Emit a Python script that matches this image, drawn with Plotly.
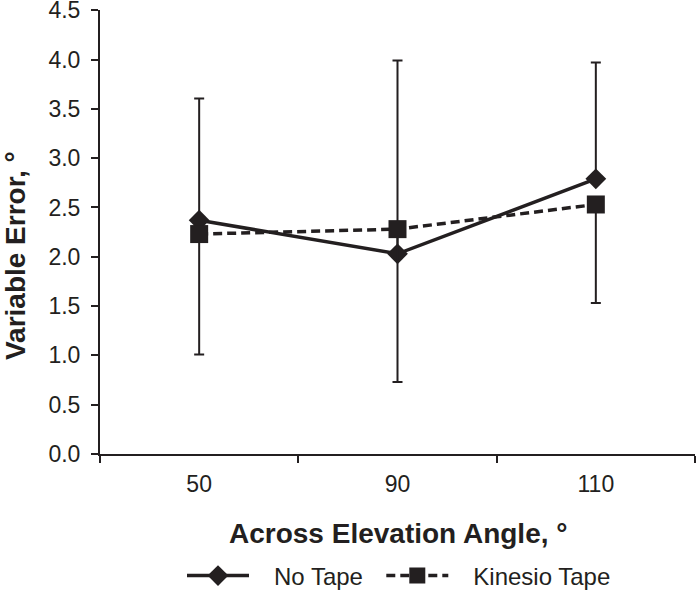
import plotly.graph_objects as go

categories = ["50", "90", "110"]
no_tape = [2.37, 2.03, 2.79]
no_tape_err_plus = [1.235, 1.96, 1.18]
kinesio = [2.23, 2.28, 2.53]
kinesio_err_minus = [1.22, 1.55, 1.00]
y_ticks = [0, 0.5, 1.0, 1.5, 2.0, 2.5, 3.0, 3.5, 4.0, 4.5]

INK = "#231f20"
FONT = "Liberation Sans, Arial, sans-serif"
PAD = "\u00a0\u00a0\u00a0"

fig = go.Figure()
fig.add_trace(go.Scatter(
    x=categories, y=no_tape, name=PAD + "No Tape\u00a0\u00a0", mode="lines+markers",
    line=dict(color=INK, width=3.5),
    marker=dict(symbol="diamond", size=16, color=INK),
    error_y=dict(type="data", array=no_tape_err_plus, arrayminus=[0, 0, 0],
                 symmetric=False, color=INK, thickness=2, width=5),
))
fig.add_trace(go.Scatter(
    x=categories, y=kinesio, name=PAD + "Kinesio Tape", mode="lines+markers",
    line=dict(color=INK, width=3.5, dash="9px,5px"),
    marker=dict(symbol="square", size=18, color=INK),
    error_y=dict(type="data", array=[0, 0, 0], arrayminus=kinesio_err_minus,
                 symmetric=False, color=INK, thickness=2, width=5),
))

fig.update_layout(
    width=697, height=592,
    margin=dict(l=100, r=2, t=10, b=138, autoexpand=False),
    paper_bgcolor="white", plot_bgcolor="white",
    font=dict(family=FONT, color=INK, size=23),
    showlegend=True,
    legend=dict(orientation="h", xref="container", x=182 / 697, xanchor="left",
                yref="container", y=(592 - 576) / 592, yanchor="middle",
                font=dict(size=24, family=FONT, color=INK), itemwidth=62,
                bgcolor="rgba(0,0,0,0)", traceorder="normal"),
    xaxis=dict(type="category", tickson="boundaries", ticks="outside", ticklen=7,
               tickwidth=2, tickcolor=INK, showline=True, linecolor=INK, linewidth=2,
               showgrid=False, zeroline=False, tickfont=dict(size=23),
               ticklabelstandoff=8, range=[-0.5, 2.5]),
    yaxis=dict(range=[0, 4.502], tickvals=y_ticks, tickformat=".1f", ticks="outside",
               ticklen=7, tickwidth=2, tickcolor=INK, showline=True, linecolor=INK,
               linewidth=2, showgrid=False, zeroline=False, tickfont=dict(size=23),
               ticklabelstandoff=6, ticklabeloverflow="allow"),
    annotations=[
        dict(text="<b>Across Elevation Angle, °</b>", xref="paper", yref="paper",
             x=0.5, y=-0.178, xanchor="center", yanchor="middle", showarrow=False,
             font=dict(size=28, family=FONT, color=INK)),
        dict(text="<b>Variable Error, °</b>", xref="paper", yref="paper",
             x=-0.1429, y=0.448, xanchor="center", yanchor="middle", showarrow=False,
             textangle=-90, font=dict(size=28, family=FONT, color=INK)),
    ],
)

fig.write_html("out.html", config={"displayModeBar": False},
               post_script="document.body.style.margin='0';document.body.style.overflow='hidden';")
